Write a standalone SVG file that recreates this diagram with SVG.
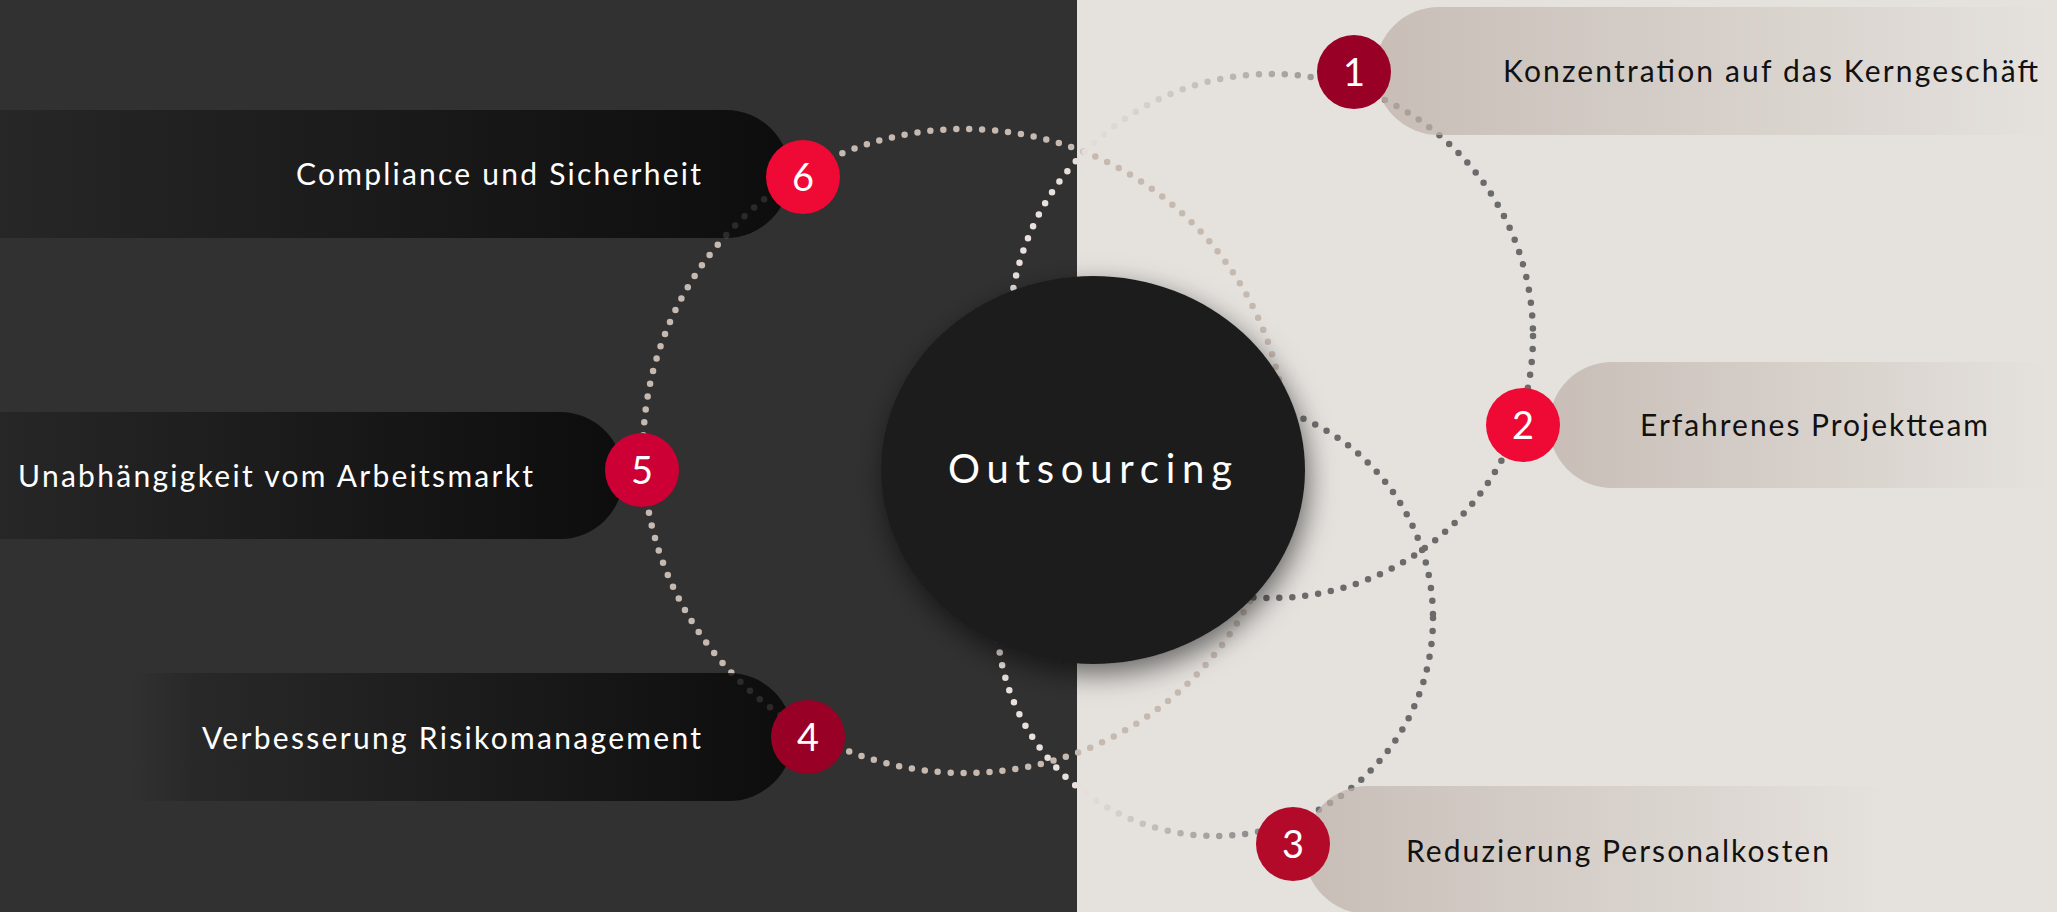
<svg xmlns="http://www.w3.org/2000/svg" width="2057" height="912" viewBox="0 0 2057 912">
  <defs>
    <linearGradient id="gDark" x1="0" y1="0" x2="1" y2="0">
      <stop offset="0" stop-color="#242424"/>
      <stop offset="1" stop-color="#040404"/>
    </linearGradient>
    <linearGradient id="gDark4" x1="0" y1="0" x2="1" y2="0">
      <stop offset="0" stop-color="#313131"/>
      <stop offset="0.1" stop-color="#262626"/>
      <stop offset="1" stop-color="#040404"/>
    </linearGradient>
    <linearGradient id="gLight" x1="0" y1="0" x2="1" y2="0">
      <stop offset="0" stop-color="#bdb0a8"/>
      <stop offset="1" stop-color="#e4e0dc"/>
    </linearGradient>
    <linearGradient id="gT" gradientUnits="userSpaceOnUse" x1="1050" y1="200" x2="1330" y2="330">
      <stop offset="0" stop-color="#e9e1dd"/>
      <stop offset="1" stop-color="#6b6b6b"/>
    </linearGradient>
    <linearGradient id="gB" gradientUnits="userSpaceOnUse" x1="1080" y1="0" x2="1320" y2="0">
      <stop offset="0" stop-color="#e9e1dd"/>
      <stop offset="1" stop-color="#6b6b6b"/>
    </linearGradient>
    <filter id="shadow" x="-30%" y="-30%" width="160%" height="160%">
      <feDropShadow dx="3" dy="10" stdDeviation="14" flood-color="#000" flood-opacity="0.55"/>
    </filter>
    <style>
      .dots { fill: none; stroke-width: 6.5; stroke-linecap: round; stroke-dasharray: 0 13; }
      .pillD { fill: url(#gDark); fill-opacity: 0.8; }
      .pillL { fill: url(#gLight); fill-opacity: 0.72; }
      .lblW { font-family: Lato, "Liberation Sans", sans-serif; font-size: 30px; fill: #ffffff; }
      .lblB { font-family: Lato, "Liberation Sans", sans-serif; font-size: 30px; fill: #111111; }
      .num { font-family: Lato, "Liberation Sans", sans-serif; font-size: 38px; fill: #ffffff; text-anchor: middle; }
      .title { font-family: Lato, "Liberation Sans", sans-serif; font-size: 40px; fill: #ffffff; }
    </style>
  </defs>

  <!-- background -->
  <rect x="0" y="0" width="1077" height="912" fill="#313131"/>
  <rect x="1077" y="0" width="980" height="912" fill="#e5e2de"/>

  <!-- connectors: dotted rings -->
  <g id="connectors">
    <circle class="dots" cx="965" cy="451" r="322" stroke="#c6b9b0"/>
    <circle class="dots" cx="1271" cy="336" r="262" stroke="url(#gT)"/>
    <circle class="dots" cx="1215" cy="618" r="218" stroke="url(#gB)"/>
  </g>

  <!-- pills -->
  <g id="node-6">
    <path class="pillD" d="M0,110 H726 A64,64 0 0 1 726,238 H0 Z"/>
    <text class="lblW" x="296" y="185" textLength="405" lengthAdjust="spacing">Compliance und Sicherheit</text>
  </g>
  <g id="node-5">
    <path class="pillD" d="M0,412 H560 A63.5,63.5 0 0 1 560,539 H0 Z"/>
    <text class="lblW" x="18" y="487" textLength="515" lengthAdjust="spacing">Unabhängigkeit vom Arbeitsmarkt</text>
  </g>
  <g id="node-4">
    <path d="M130,673 H729 A64,64 0 0 1 729,801 H130 Z" fill="url(#gDark4)" fill-opacity="0.8"/>
    <text class="lblW" x="202" y="749" textLength="499" lengthAdjust="spacing">Verbesserung Risikomanagement</text>
  </g>
  <g id="node-1">
    <path class="pillL" d="M2045,7 H1439 A64,64 0 0 0 1439,135 H2045 Z"/>
    <text class="lblB" x="1503" y="82" textLength="535" lengthAdjust="spacing">Konzentration auf das Kerngeschäft</text>
  </g>
  <g id="node-2">
    <path class="pillL" d="M2042,362 H1612 A63,63 0 0 0 1612,488 H2042 Z"/>
    <text class="lblB" x="1640" y="436" textLength="348" lengthAdjust="spacing">Erfahrenes Projektteam</text>
  </g>
  <g id="node-3">
    <path class="pillL" d="M1880,786 H1368 A64,64 0 0 0 1368,914 H1880 Z"/>
    <text class="lblB" x="1406" y="862" textLength="423" lengthAdjust="spacing">Reduzierung Personalkosten</text>
  </g>

  <!-- center -->
  <g id="node-center">
    <ellipse cx="1093" cy="470" rx="212" ry="194" fill="#1f1f1f" filter="url(#shadow)"/>
    <text class="title" x="948" y="483" textLength="284" lengthAdjust="spacing">Outsourcing</text>
  </g>

  <!-- number badges -->
  <g id="badge-1"><circle cx="1354" cy="72" r="37" fill="#990026"/><text class="num" x="1354" y="86">1</text></g>
  <g id="badge-2"><circle cx="1523" cy="425" r="37" fill="#ee0a35"/><text class="num" x="1523" y="439">2</text></g>
  <g id="badge-3"><circle cx="1293" cy="844" r="37" fill="#b30a29"/><text class="num" x="1293" y="858">3</text></g>
  <g id="badge-4"><circle cx="808" cy="737" r="37" fill="#990026"/><text class="num" x="808" y="751">4</text></g>
  <g id="badge-5"><circle cx="642" cy="470" r="37" fill="#cc0035"/><text class="num" x="642" y="484">5</text></g>
  <g id="badge-6"><circle cx="803" cy="177" r="37" fill="#ee0a35"/><text class="num" x="803" y="191">6</text></g>
</svg>
